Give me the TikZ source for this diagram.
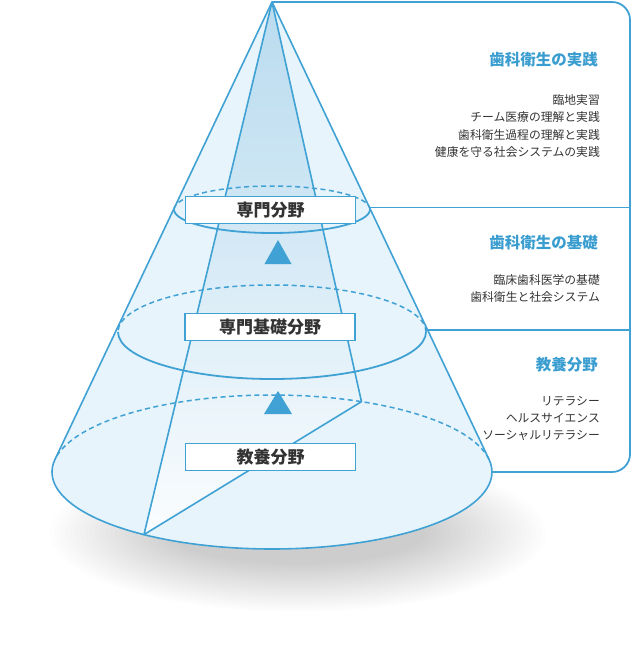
\documentclass[tikz,border=0pt]{standalone}
\usepackage{fontspec}
\setmainfont{Noto Sans CJK JP}
\usetikzlibrary{calc}
\definecolor{lineblue}{HTML}{40A2D4}
\definecolor{titleblue}{HTML}{3A9DD0}
\definecolor{conefill}{HTML}{E8F4FB}
\definecolor{wedgetop}{HTML}{9FCDE8}
\definecolor{wedgemid}{HTML}{CAE4F3}
\definecolor{txt}{HTML}{333333}
\pgfdeclareverticalshading{wedgesh}{100bp}{color(0bp)=(white);color(22bp)=(white);color(60bp)=(wedgemid);color(100bp)=(wedgetop)}
\begin{document}
\begin{tikzpicture}[x=1pt,y=1pt,
  bl/.style={draw=lineblue, line width=1.6pt, line join=round},
  backarc/.style={draw=lineblue, line width=1.5pt, dash pattern=on 5pt off 3.5pt},
  frontarc/.style={draw=lineblue, line width=1.8pt},
  panel/.style={draw=lineblue, line width=1.8pt},
  labelbox/.style={draw=lineblue, line width=1.5pt, fill=white, minimum width=170pt, minimum height=27pt, inner sep=0pt, text=txt, font=\fontsize{17}{18}\selectfont\bfseries},
  ptitle/.style={anchor=east, inner sep=0pt, text=titleblue, font=\fontsize{15.5}{18}\selectfont\bfseries},
  pitem/.style={anchor=east, inner sep=0pt, text=txt, font=\fontsize{11.8}{14}\selectfont},
  arrowtri/.style={fill=lineblue},
  shadowlayer/.style={fill=black, opacity=0.0085}]
\useasboundingbox (0,0) rectangle (634,-663);
% key points
\coordinate (apex) at (272,-2);
\coordinate (bc) at (272,-472);
\coordinate (mc) at (272,-332);
\coordinate (tc) at (272,-209.5);
\coordinate (shc) at (298,-533);
\path (bc) ++(170.6:220 and 77) coordinate (tl);
\path (bc) ++(9.4:220 and 77) coordinate (tr);
\path (bc) ++(234.4:220 and 77) coordinate (p1);
\path (bc) ++(66:220 and 77) coordinate (p2);
% soft shadow
\foreach \i in {0,...,24} {
  \fill[shadowlayer] (shc) ellipse[x radius={248-5*\i}, y radius={79-2*\i}];
}
% cone body
\fill[conefill] (apex) -- (tl) arc[start angle=170.6, end angle=369.4, x radius=220, y radius=77] -- cycle;
% wedge
\shade[shading=wedgesh] (apex) -- (p1) -- (p2) -- cycle;
% back (dashed) arcs
\draw[backarc] (bc) ++(9.4:220 and 77) arc[start angle=9.4, end angle=170.6, x radius=220, y radius=77];
\draw[backarc] (mc) ++(0:154 and 47) arc[start angle=0, end angle=180, x radius=154, y radius=47];
\draw[backarc] (tc) ++(0:98 and 23.5) arc[start angle=0, end angle=180, x radius=98, y radius=23.5];
% front arcs
\draw[frontarc] (mc) ++(180:154 and 47) arc[start angle=180, end angle=360, x radius=154, y radius=47];
\draw[frontarc] (tc) ++(180:98 and 23.5) arc[start angle=180, end angle=360, x radius=98, y radius=23.5];
% wedge lines
\draw[bl] (apex) -- (p1) -- (p2) -- cycle;
% cone outline
\draw[bl] (apex) -- (tl) arc[start angle=170.6, end angle=369.4, x radius=220, y radius=77] -- cycle;
% right panel
\draw[panel, rounded corners=18pt] (apex) -- (630,-2) -- (630,-472) -- (491,-472);
\coordinate (s1a) at (369.5,-207.5);
\coordinate (s1b) at (630,-207.5);
\coordinate (s2a) at (426,-330);
\coordinate (s2b) at (630,-330);
\draw[panel] (s1a) -- (s1b);
\draw[panel] (s2a) -- (s2b);
% arrows (triangles)
\fill[arrowtri] (278,-240) -- (291.5,-264) -- (264.5,-264) -- cycle;
\fill[arrowtri] (278,-391) -- (292,-414) -- (264,-414) -- cycle;
% label boxes
\node[labelbox] (lab1) at (270.5,-210) {専門分野};
\node[labelbox] (lab2) at (270,-327) {専門基礎分野};
\node[labelbox] (lab3) at (270.5,-457) {教養分野};
% panel texts
\node[ptitle] (t1) at (598,-60) {歯科衛生の実践};
\node[pitem] (i11) at (600,-100) {臨地実習};
\node[pitem] (i12) at (600,-117.5) {チーム医療の理解と実践};
\node[pitem] (i13) at (600,-135) {歯科衛生過程の理解と実践};
\node[pitem] (i14) at (600,-152) {健康を守る社会システムの実践};
\node[ptitle] (t2) at (598,-243) {歯科衛生の基礎};
\node[pitem] (i21) at (600,-280) {臨床歯科医学の基礎};
\node[pitem] (i22) at (600,-297) {歯科衛生と社会システム};
\node[ptitle] (t3) at (598,-365) {教養分野};
\node[pitem] (i31) at (600,-401.5) {リテラシー};
\node[pitem] (i32) at (600,-418) {ヘルスサイエンス};
\node[pitem] (i33) at (600,-435) {ソーシャルリテラシー};
\end{tikzpicture}
\end{document}
